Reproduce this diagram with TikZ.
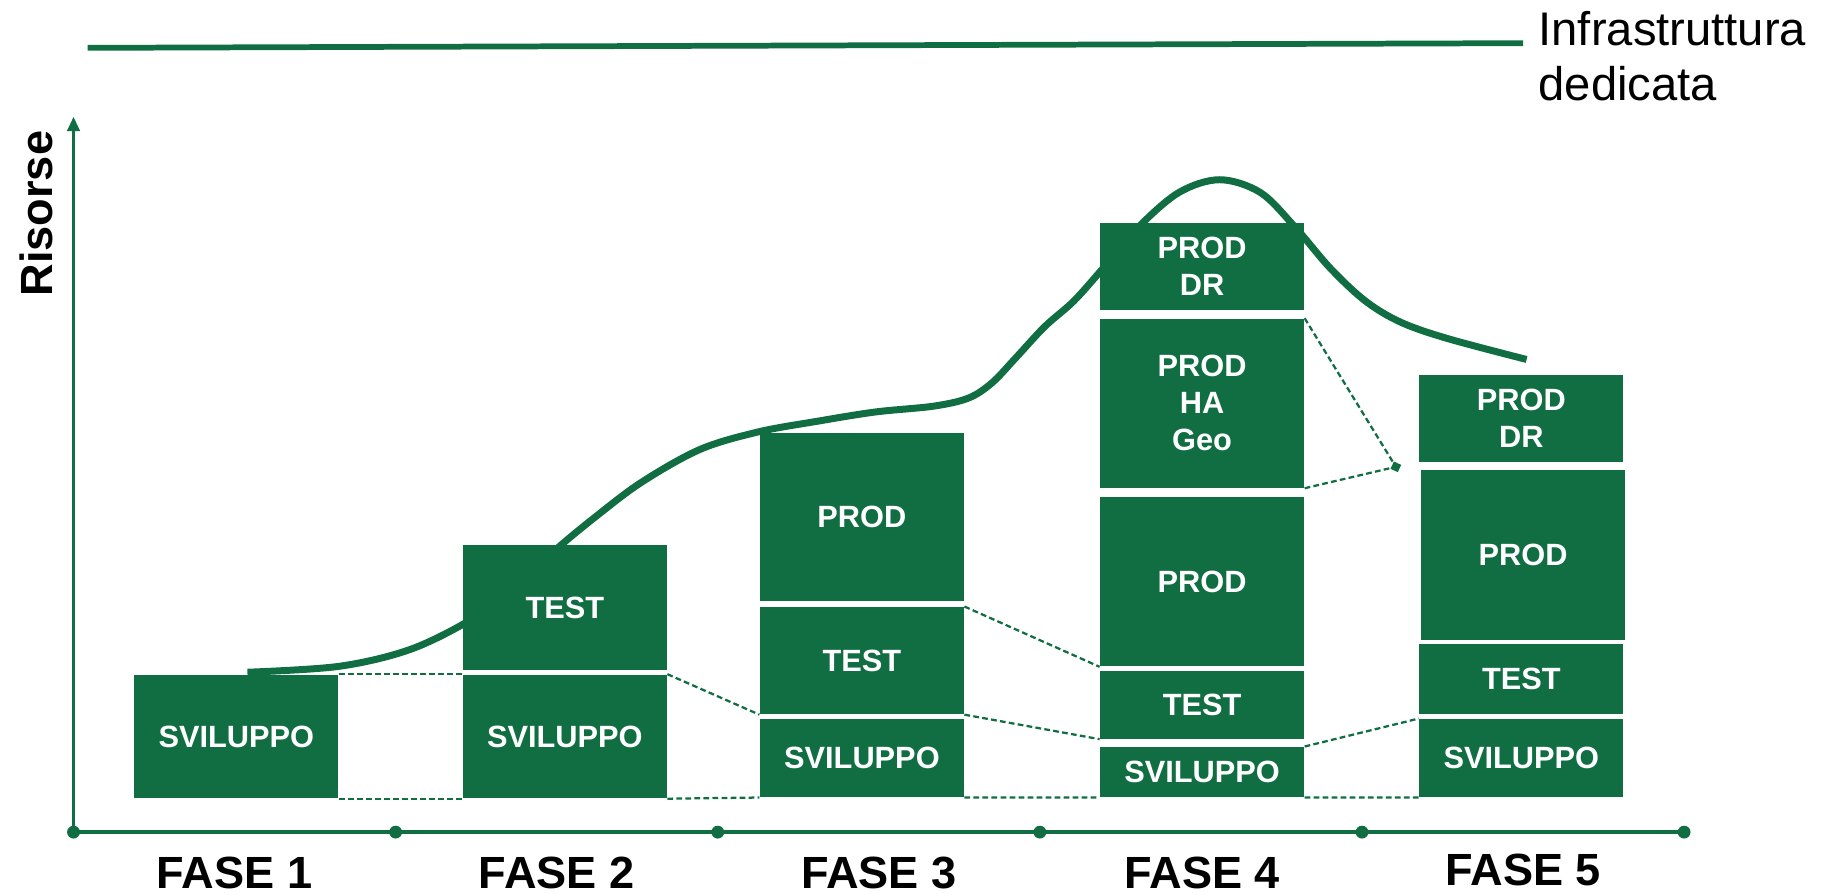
\documentclass[tikz,border=0pt]{standalone}
\usepackage{fontspec}
\setmainfont{Liberation Sans}
\usetikzlibrary{arrows.meta,shapes.geometric}
\definecolor{verde}{HTML}{106E42}

\begin{document}
\begin{tikzpicture}[
            x=0.02cm, y=-0.02cm,
            blk/.style={fill=verde, text=white, font=\fontsize{15}{18}\selectfont\bfseries, minimum width=3.5cm, inner sep=0pt, align=center},
            dot/.style={circle, fill=verde, inner sep=0pt, minimum size=0.22cm},
            axis/.style={draw=verde, line width=2pt},
            link/.style={draw=verde, line width=1.1pt, dash pattern=on 2.8pt off 1.6pt},
            fase/.style={font=\fontsize{22}{26}\selectfont\bfseries, inner sep=0pt}
        ]
            \useasboundingbox (0,0) rectangle (1568,766);

            % Infrastructure line at the top
            \coordinate (infl) at (75,41);
            \coordinate (infr) at (1305,37);
            \draw[verde, line width=2.8pt] (infl) -- (infr);
            \node[anchor=north west, inner sep=0pt, align=left, font=\fontsize{23}{27}\selectfont] (infra) at (1318,9) {Infrastruttura\\dedicata};

            % Resource curve (behind the boxes)
            \draw[verde, line width=3.4pt] plot[smooth, tension=0.55] coordinates {
                (212,576) (290,571) (350,557) (400,533) (440,505) (475,472)
                (510,443) (550,413) (600,385) (650,370) (700,361) (750,353)
                (800,348) (830,341) (850,328) (870,307) (895,280) (920,258)
                (945,230) (975,195) (1010,165) (1045,154) (1080,165) (1110,195)
                (1140,230) (1170,258) (1200,276) (1240,290) (1308,308)};

            % Axes
            \node[dot] (d0) at (63,713) {};
            \node[dot] (d1) at (339,713) {};
            \node[dot] (d2) at (615,713) {};
            \node[dot] (d3) at (891,713) {};
            \node[dot] (d4) at (1167,713) {};
            \node[dot] (d5) at (1443,713) {};
            \coordinate (ytop) at (63,100);
            \draw[axis] (d0.center) -- (d5.center);
            \draw[axis, line width=1.6pt, -{Triangle[width=6pt,length=7pt]}] (d0.center) -- (ytop);
            \node[rotate=90, fase] (risorse) at (31,183) {Risorse};

            % Phase labels
            \node[fase] (f1) at (201,748) {FASE 1};
            \node[fase] (f2) at (477,748) {FASE 2};
            \node[fase] (f3) at (753,748) {FASE 3};
            \node[fase] (f4) at (1030,748) {FASE 4};
            \node[fase] (f5) at (1305,745) {FASE 5};

            % Fase 1
            \node[blk, minimum height=2.12cm] (sv1) at (202.5,631) {SVILUPPO};

            % Fase 2
            \node[blk, minimum height=2.14cm] (te2) at (484,520.5) {TEST};
            \node[blk, minimum height=2.12cm] (sv2) at (484,631) {SVILUPPO};

            % Fase 3
            \node[blk, minimum height=2.88cm] (pr3) at (738.5,443) {PROD};
            \node[blk, minimum height=1.84cm] (te3) at (738.5,566) {TEST};
            \node[blk, minimum height=1.34cm] (sv3) at (738.5,649.5) {SVILUPPO};

            % Fase 4
            \node[blk, minimum height=1.5cm] (dr4) at (1030,228.5) {PROD\\DR};
            \node[blk, minimum height=2.9cm] (ha4) at (1030,345.5) {PROD\\HA\\Geo};
            \node[blk, minimum height=2.9cm] (pr4) at (1030,498.5) {PROD};
            \node[blk, minimum height=1.16cm] (te4) at (1030,604) {TEST};
            \node[blk, minimum height=0.86cm] (sv4) at (1030,661.5) {SVILUPPO};

            % Fase 5
            \node[blk, minimum height=1.5cm] (dr5) at (1303.5,358.5) {PROD\\DR};
            \node[blk, minimum height=2.9cm] (pr5) at (1305,475.5) {PROD};
            \node[blk, minimum height=1.2cm] (te5) at (1303.5,582) {TEST};
            \node[blk, minimum height=1.34cm] (sv5) at (1303.5,649.5) {SVILUPPO};

            % Dashed links between phases
            \draw[link] (sv1.north east) -- (sv2.north west);
            \draw[link] (sv1.south east) -- (sv2.south west);
            \draw[link] (sv2.north east) -- (te3.south west);
            \draw[link] (sv2.south east) -- (sv3.south west);
            \draw[link] (te3.north east) -- (pr4.south west);
            \draw[link] (te3.south east) -- (te4.south west);
            \draw[link] (sv3.south east) -- (sv4.south west);
            \draw[link] (sv4.north east) -- (sv5.north west);
            \draw[link] (sv4.south east) -- (sv5.south west);

            % DR marker
            \node[diamond, fill=verde, inner sep=0pt, minimum size=0.2cm, rotate=20] (mk) at (1196,400) {};
            \draw[link] (ha4.north east) -- (mk.center);
            \draw[link] (ha4.south east) -- (mk.center);

        \end{tikzpicture}
\end{document}
